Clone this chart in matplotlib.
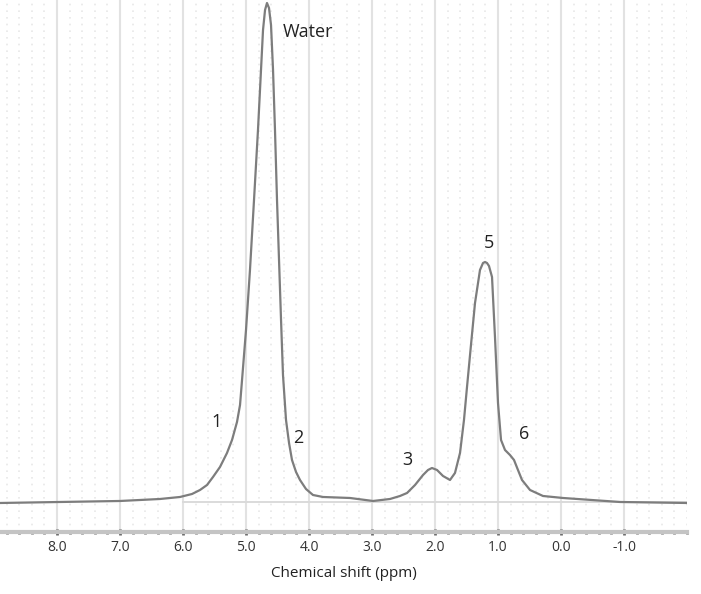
import matplotlib
matplotlib.use("Agg")
import matplotlib.pyplot as plt
from matplotlib.ticker import MultipleLocator

plt.rcParams['font.family'] = ['Open Sans', 'DejaVu Sans']

# spectrum: chemical shift (ppm) and intensity (a.u.)
ppm = [8.905, 7.952, 7.000, 6.365, 6.048, 5.857, 5.730, 5.619, 5.524, 5.413,
       5.302, 5.222, 5.143, 5.095, 5.063, 5.000, 4.937, 4.873, 4.810, 4.762,
       4.730, 4.698, 4.667, 4.635, 4.603, 4.571, 4.540, 4.508, 4.476, 4.444,
       4.413, 4.365, 4.317, 4.270, 4.206, 4.143, 4.048, 3.937, 3.778, 3.349,
       2.984, 2.714, 2.556, 2.444, 2.317, 2.190, 2.111, 2.048, 1.968, 1.873,
       1.762, 1.683, 1.603, 1.540, 1.492, 1.429, 1.365, 1.286, 1.238, 1.206,
       1.175, 1.143, 1.095, 1.048, 1.000, 0.952, 0.889, 0.810, 0.746, 0.683,
       0.619, 0.492, 0.286, -0.032, -0.937, -2.000]
intensity = [29, 30, 31, 33, 35, 38, 42, 47, 55, 65,
             79, 92, 110, 127, 152, 202, 262, 332, 402, 462,
             502, 522, 529, 524, 507, 462, 402, 332, 272, 212,
             157, 112, 89, 72, 60, 52, 43, 37, 35, 34,
             31, 33, 36, 39, 47, 57, 62, 64, 62, 56,
             52, 59, 79, 112, 145, 187, 229, 262, 269, 270,
             269, 266, 255, 195, 129, 92, 82, 77, 72, 62,
             52, 42, 36, 34, 30, 29]

baseline_ppm = [6.0, -2.0]
baseline_level = [30, 30]

peak_labels = ['Water', '1', '2', '3', '5', '6']
label_ppm = [4.41, 5.46, 4.175, 2.444, 1.15, 0.587]
label_int = [500, 110, 94, 72, 289, 98]

tick_values = [8.0, 7.0, 6.0, 5.0, 4.0, 3.0, 2.0, 1.0, 0.0, -1.0]

fig = plt.figure(figsize=(7.01, 5.94), dpi=100, facecolor='white')
ax = fig.add_axes([0.0, 0.1044, 687 / 701, 0.8956])

ax.plot(baseline_ppm, baseline_level, color='#dadada', lw=1.4, zorder=2)
ax.plot(ppm, intensity, color='#7d7d7d', lw=1.6, zorder=3,
        solid_joinstyle='round', solid_capstyle='round')

for txt, px, py in zip(peak_labels, label_ppm, label_int):
    ha = 'left' if txt == 'Water' else 'center'
    ax.text(px, py, txt, fontsize=13, color='#222222', ha=ha, va='center')

ax.set_xlim(8.905, -2.0)
ax.set_ylim(0, 532)

ax.xaxis.set_major_locator(MultipleLocator(1.0))
ax.xaxis.set_minor_locator(MultipleLocator(0.2))
ax.set_xticks(tick_values)
ax.set_xticklabels([f'{v:.1f}' for v in tick_values])
ax.set_yticks([])

ax.grid(True, which='major', axis='x', color='#e2e2e2', lw=1.5)
ax.grid(True, which='minor', axis='x', color='#e8e8e8', lw=1.2,
        linestyle=(0, (1, 3)))
ax.set_axisbelow(True)

for side in ('top', 'left', 'right'):
    ax.spines[side].set_visible(False)
ax.spines['bottom'].set_color('#c4c4c4')
ax.spines['bottom'].set_linewidth(3)

ax.tick_params(axis='x', which='major', direction='inout', length=5, width=2,
               color='#666666', labelsize=10, labelcolor='#333333', pad=3)
ax.tick_params(axis='x', which='minor', direction='inout', length=2.5,
               width=2, color='#666666')

ax.set_xlabel('Chemical shift (ppm)', fontsize=11, color='#222222',
              labelpad=8)

fig.savefig('out.png', dpi=100, facecolor='white')
